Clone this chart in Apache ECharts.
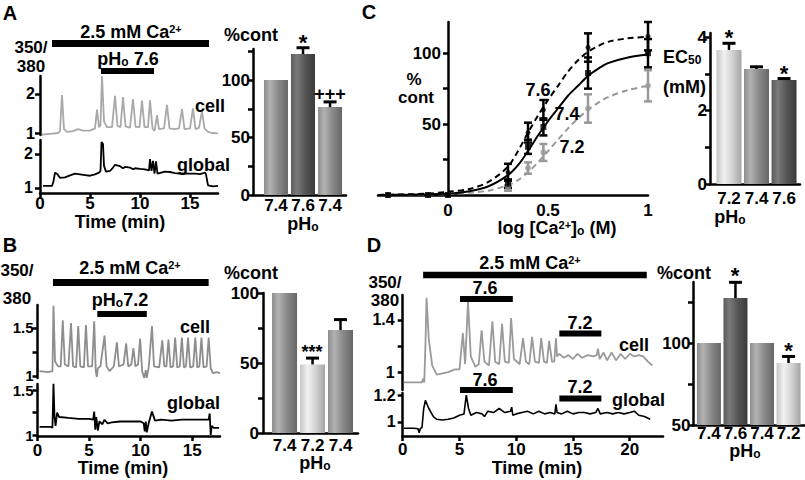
<!DOCTYPE html>
<html><head><meta charset="utf-8">
<script src="https://cdn.jsdelivr.net/npm/echarts@6/dist/echarts.min.js"></script>
<style>html,body{margin:0;padding:0;background:#fff}#c{width:805px;height:480px}</style>
</head><body><div id="c"></div>
<script>
// ---------------- DATA ----------------
// Panel A traces [time (min), 350/380 ratio]
const aCell = [[0.2,0.96],[1.0,0.98],[1.8,1.0],[2.0,1.05],[2.2,1.97],[2.4,1.1],[2.7,1.03],[3.3,1.05],[3.8,1.1],[4.3,1.06],[5.0,1.06],[5.5,1.12],[5.7,1.6],[5.9,1.15],[6.05,1.2],[6.2,2.46],[6.4,1.3],[6.7,1.15],[7.2,1.15],[7.5,1.95],[7.75,1.18],[8.05,1.15],[8.3,1.92],[8.55,1.17],[9.0,1.14],[9.3,1.87],[9.55,1.16],[9.95,1.15],[10.2,1.83],[10.45,1.15],[10.8,1.15],[11.0,1.84],[11.25,1.12],[11.45,1.05],[11.7,1.45],[11.9,1.1],[12.4,1.12],[12.7,1.72],[12.95,1.12],[13.5,1.1],[13.9,1.12],[14.2,1.61],[14.45,1.1],[15.0,1.12],[15.3,1.63],[15.55,1.1],[15.9,1.13],[16.2,1.56],[16.45,1.12],[16.8,1.03],[17.2,1.0],[17.8,0.99]];
const aGlobal = [[0.3,1.06],[1.2,1.06],[1.35,1.2],[1.5,1.45],[1.7,1.42],[2.0,1.3],[2.5,1.31],[3.0,1.37],[3.5,1.42],[4.0,1.4],[4.5,1.38],[5.0,1.36],[5.5,1.4],[5.9,1.45],[6.05,1.5],[6.15,2.35],[6.3,2.3],[6.4,1.65],[6.6,1.48],[7.0,1.5],[7.3,1.6],[7.5,1.68],[8.0,1.64],[8.3,1.58],[8.5,1.62],[9.0,1.6],[9.3,1.55],[9.5,1.58],[10.0,1.56],[10.5,1.55],[10.9,1.52],[11.0,1.85],[11.15,1.5],[11.3,1.8],[11.45,1.42],[11.6,1.78],[11.75,1.42],[12.5,1.48],[13.0,1.47],[13.5,1.44],[14.0,1.42],[14.5,1.43],[15.0,1.42],[15.5,1.42],[16.0,1.41],[16.5,1.45],[16.6,1.4],[16.8,1.08],[17.3,1.05],[17.8,1.06]];
// Panel B traces
const bCell = [[0.2,1.05],[1.0,1.04],[1.45,1.05],[1.55,1.73],[1.7,1.15],[2.0,1.1],[2.25,1.1],[2.45,1.58],[2.65,1.12],[3.0,1.1],[3.25,1.55],[3.45,1.1],[3.75,1.09],[3.95,1.52],[4.15,1.1],[4.5,1.09],[4.7,1.53],[4.9,1.1],[5.3,1.1],[5.5,1.57],[5.65,1.05],[5.75,0.99],[5.85,1.08],[6.1,1.1],[6.5,1.42],[6.7,1.1],[7.0,1.05],[7.4,1.1],[7.7,1.35],[7.9,1.1],[8.35,1.12],[8.6,1.34],[8.8,1.1],[9.1,1.12],[9.3,1.29],[9.5,1.1],[9.75,1.12],[9.95,1.39],[10.15,1.05],[10.35,0.98],[10.5,1.06],[10.6,0.98],[10.8,1.1],[11.1,1.52],[11.3,1.1],[11.8,1.09],[12.1,1.37],[12.3,1.1],[12.5,1.1],[12.7,1.38],[12.9,1.09],[13.15,1.1],[13.35,1.4],[13.55,1.09],[13.8,1.1],[14.0,1.4],[14.2,1.09],[14.4,1.1],[14.6,1.4],[14.8,1.09],[15.1,1.1],[15.3,1.4],[15.5,1.09],[15.7,1.1],[15.9,1.4],[16.1,1.09],[16.4,1.1],[16.6,1.4],[16.8,1.08],[17.0,1.03],[17.4,1.04],[17.7,1.03]];
const bGlobal = [[0.2,1.09],[1.3,1.09],[1.45,1.08],[1.55,1.57],[1.65,1.2],[1.75,1.1],[1.9,1.25],[2.1,1.2],[3.0,1.19],[4.0,1.18],[5.0,1.18],[5.4,1.17],[5.5,1.26],[5.6,1.06],[5.7,1.2],[5.85,1.05],[6.0,1.15],[6.3,1.12],[6.5,1.17],[6.8,1.13],[7.2,1.14],[8.0,1.15],[9.0,1.15],[10.0,1.15],[10.3,1.13],[10.4,1.04],[10.5,1.15],[10.6,1.03],[10.8,1.14],[11.1,1.26],[11.4,1.16],[12.0,1.17],[13.0,1.16],[14.0,1.17],[15.0,1.17],[16.0,1.17],[16.6,1.17],[16.7,1.24],[16.8,1.0],[16.9,1.1],[17.1,1.08],[17.6,1.08]];
// Panel D traces
const dCell = [[0.1,0.92],[1.0,0.92],[1.7,0.92],[1.8,0.95],[1.9,0.92],[2.0,1.2],[2.1,1.57],[2.3,1.25],[2.6,1.05],[3.0,0.98],[3.5,0.99],[4.0,1.0],[4.6,1.02],[5.0,1.02],[5.3,1.3],[5.5,1.06],[5.75,1.54],[6.0,1.12],[6.4,1.04],[6.7,1.06],[6.95,1.32],[7.2,1.08],[7.6,1.05],[7.9,1.39],[8.15,1.08],[8.5,1.06],[8.75,1.37],[9.0,1.08],[9.35,1.07],[9.55,1.415],[9.8,1.1],[10.3,1.06],[10.6,1.26],[10.85,1.08],[11.15,1.06],[11.4,1.27],[11.65,1.08],[12.0,1.07],[12.2,1.26],[12.45,1.08],[12.7,1.07],[12.9,1.24],[13.15,1.08],[13.35,1.08],[13.5,1.26],[13.6,1.12],[13.8,1.14],[14.2,1.11],[14.6,1.13],[15.0,1.1],[15.4,1.14],[15.8,1.11],[16.3,1.13],[16.8,1.12],[17.1,1.13],[17.2,1.18],[17.35,1.1],[17.7,1.15],[18.0,1.09],[18.4,1.15],[18.8,1.09],[19.2,1.14],[19.6,1.1],[20.0,1.14],[20.4,1.12],[20.8,1.13],[21.2,1.12],[21.6,1.08],[22.0,1.05]];
const dGlobal = [[0.1,0.953],[1.0,0.953],[1.35,0.95],[1.45,0.92],[1.55,0.95],[1.7,0.96],[1.85,1.1],[2.0,1.16],[2.3,1.1],[2.7,1.04],[3.0,1.02],[3.5,1.015],[4.0,1.02],[4.5,1.03],[5.0,1.05],[5.4,1.06],[5.6,1.2],[5.8,1.1],[6.0,1.05],[6.5,1.07],[7.0,1.06],[7.2,1.04],[7.5,1.08],[8.0,1.07],[8.5,1.1],[9.0,1.07],[9.5,1.08],[9.6,1.11],[9.7,1.05],[10.0,1.06],[10.5,1.07],[11.0,1.08],[11.5,1.06],[12.0,1.08],[12.5,1.06],[13.0,1.07],[13.4,1.06],[13.5,1.13],[13.6,1.07],[14.0,1.06],[14.5,1.08],[15.0,1.06],[15.5,1.07],[16.0,1.07],[16.5,1.06],[17.0,1.07],[17.2,1.1],[17.4,1.06],[18.0,1.07],[18.5,1.06],[19.0,1.07],[19.5,1.06],[20.0,1.07],[20.4,1.08],[20.8,1.05],[21.3,1.04],[21.8,1.02]];
// stimulus periods [start, end] (min)
const aCaPeriod = [1.2, 16.9];
const aPhPeriod = [6.1, 11.4];
const bCaPeriod = [1.5, 16.6];
const bPhPeriod = [5.8, 10.6];
const dCaPeriod = [1.8, 21.5];
const dPh76Period = [5.05, 9.7];
const dPh72Period = [13.8, 17.5];
// bar charts
const aBarLabels = ['7.4','7.6','7.4'];
const aBarValues = [100, 122.6, 76.5];
const aBarErr = [0, 5.5, 4.5];
const aBarShade = ['mid','dark','mid'];
const bBarLabels = ['7.4','7.2','7.4'];
const bBarValues = [100, 49, 73.5];
const bBarErr = [0, 4.5, 7.5];
const bBarShade = ['mid','light','mid'];
const cBarLabels = ['7.2','7.4','7.6'];
const cBarValues = [3.65, 3.13, 2.83];
const cBarErr = [0.18, 0.06, 0.04];
const cBarShade = ['light','mid','dark'];
const dBarLabels = ['7.4','7.6','7.4','7.2'];
const dBarValues = [100, 127.4, 100, 87.8];
const dBarErr = [0, 9.6, 0, 4];
const dBarShade = ['mid','dark','mid','light'];
// Panel C dose-response: log[Ca2+]o and % control
const cLogCa = [-0.3, -0.1, 0, 0.3, 0.4, 0.477, 0.7, 1.0];
const c74 = [0, 0, 0, 8, 34, 48, 86, 100];
const c74Err = [0, 0, 0, 3, 5, 6, 11, 10];
const c76 = [0, 0, 0, 16, 44, 60, 104, 112];
const c76Err = [0, 0, 0, 6, 7, 7, 10, 10];
const c72 = [0, 0, 0, 5, 19, 30, 61, 77];
const c72Err = [0, 0, 0, 2, 4, 6, 10, 11];
// fitted curves
const fitX  = [-0.35,-0.2,-0.1,0,0.1,0.2,0.3,0.35,0.4,0.45,0.5,0.55,0.6,0.65,0.7,0.75,0.8,0.9,1.0];
const fit74 = [0,0.2,0.5,1,2.5,6,14,21,31,42,52,61,70,77,84,89,93,97,99];
const fit76 = [0,0.5,1,2.3,4,9,20,31,44,56,67,77,87,95,101,105,108,110.5,111.5];
const fit72 = [0,0.2,0.4,0.7,1.5,3,7,10.5,16,23,31,39,47,54,60,65,69,74,77];
// tick values
const aTimeTicks = [0,5,10,15];
const bTimeTicks = [0,5,10,15];
const dTimeTicks = [0,5,10,15,20];
const cLogTicks = [0,0.5,1];

// ---------------- RENDER ----------------
const FONT = 'Liberation Sans, Arial, Helvetica, sans-serif';
const chart = echarts.init(document.getElementById('c'), null, {renderer: 'svg', width: 805, height: 480});
const LG = echarts.graphic.LinearGradient;
const SHADES = {
  mid:   [['#8c8c8c',0],['#b2b2b2',0.25],['#8a8a8a',0.6],['#666',1]],
  dark:  [['#5c5c5c',0],['#7a7a7a',0.25],['#555',0.6],['#3a3a3a',1]],
  light: [['#c4c4c4',0],['#f2f2f2',0.3],['#d0d0d0',0.65],['#a4a4a4',1]]
};
function grad(s){ return new LG(0,0,1,0, SHADES[s].map(([c,o])=>({offset:o,color:c}))); }

const grids = [
  {left:40, top:76, width:178, height:59},     //0 A cell
  {left:40, top:140, width:178, height:53},    //1 A global
  {left:253, top:49, width:93, height:146},    //2 A bar
  {left:378, top:22, width:270, height:173},   //3 C curve (x axis from -0.35)
  {left:710, top:33, width:90, height:151},    //4 C bar
  {left:37.5, top:305, width:182.5, height:73},//5 B cell
  {left:37.5, top:384, width:182.5, height:52},//6 B global
  {left:263, top:293, width:95, height:140},   //7 B bar
  {left:402.7, top:295, width:260.3, height:95},//8 D cell
  {left:402.7, top:393, width:260.3, height:43},//9 D global
  {left:693, top:282, width:112, height:143},  //10 D bar
  {left:448, top:22, width:200, height:173}    //11 C curve y axis at log=0
].map(g => Object.assign({containLabel:false, outerBoundsMode:'none'}, g));

const LINE = {show:true, onZero:false, lineStyle:{color:'#000', width:2.5}};
function ax(gi, min, max, ticks){
  return {
    type:'value', gridIndex:gi, min, max,
    axisLine: Object.assign({}, LINE),
    axisTick: {show: !!ticks, length:5, lineStyle:{color:'#000', width:2.5}, customValues: ticks || []},
    axisLabel: {show:false},
    splitLine: {show:false}
  };
}
const hidden = (gi,min,max)=>({type:'value', gridIndex:gi, min, max, show:false, splitLine:{show:false}});

const xAxis = [
  hidden(0, 0, 17.8),
  ax(1, 0, 17.8, aTimeTicks),
  ax(2, -0.85, 2.59, null),
  ax(3, -0.35, 1.0, null),
  ax(4, -0.69, 2.58, null),
  hidden(5, 0, 17.7),
  ax(6, 0, 17.7, bTimeTicks),
  ax(7, -0.77, 2.625, null),
  hidden(8, 0, 22.93),
  ax(9, 0, 22.93, dTimeTicks),
  ax(10, -0.6, 3.62, null),
  hidden(11, 0, 1.0)
];
const yAxis = [
  ax(0, 0.949, 2.46, [1,2]),
  ax(1, 0.853, 2.41, [1,2]),
  ax(2, 0, 127, [0,25,50,75,100,125]),
  hidden(3, 0, 122),
  ax(4, 0, 4.11, [0,1,2,3,4]),
  ax(5, 0.979, 1.739, [1,1.25,1.5]),
  ax(6, 0.989, 1.567, [1,1.25,1.5]),
  ax(7, 0, 100, [0,25,50,75,100]),
  ax(8, 0.862, 1.592, [1,1.2,1.4]),
  ax(9, 0.896, 1.215, [1,1.2]),
  ax(10, 50, 137.2, [50,75,100,125]),
  ax(11, 0, 122, [25,50,75,100])
];

const series = [];
function trace(gi, data, color, w){
  series.push({type:'line', xAxisIndex:gi, yAxisIndex:gi, data, showSymbol:false, symbol:'none',
    lineStyle:{color, width:w||1.8}, animation:false, z:3});
}
trace(0, aCell, '#a9a9a9'); trace(1, aGlobal, '#000');
trace(5, bCell, '#8e8e8e'); trace(6, bGlobal, '#000');
trace(8, dCell, '#9a9a9a'); trace(9, dGlobal, '#000', 1.6);

// stimulus bars: period via x scale, vertical pixel placement from layout
function stim(gi, period, yPix, h){
  series.push({type:'custom', xAxisIndex:gi, yAxisIndex:gi, clip:false, animation:false, z:5,
    data:[[period[0], period[1]]], encode:{x:[0,1]},
    renderItem:(p, api)=>{
      const y0 = yAxis[gi].min;
      const a = api.coord([api.value(0), y0]), b = api.coord([api.value(1), y0]);
      return {type:'rect', shape:{x:a[0], y:yPix-h/2, width:b[0]-a[0], height:h}, style:{fill:'#000'}};
    }});
}
stim(0, aCaPeriod, 43.5, 7); stim(0, aPhPeriod, 71, 6);
stim(5, bCaPeriod, 282.5, 7); stim(5, bPhPeriod, 314, 6);
stim(8, dCaPeriod, 275, 6.5); stim(8, dPh76Period, 299, 6); stim(8, dPh72Period, 333.5, 6);
stim(9, dPh76Period, 390, 6); stim(9, dPh72Period, 398.5, 6);

// bar charts
function bars(gi, vals, errs, shades, bw){
  series.push({type:'bar', xAxisIndex:gi, yAxisIndex:gi, barWidth:bw, animation:false, z:2,
    data: vals.map((v,i)=>({value:[i,v], itemStyle:{color:grad(shades[i])}}))});
  series.push({type:'custom', xAxisIndex:gi, yAxisIndex:gi, clip:false, animation:false, z:3,
    data: vals.map((v,i)=>[i,v,errs[i]]).filter(d=>d[2]>0), encode:{x:0,y:1},
    renderItem:(p, api)=>{
      const x=api.value(0), y=api.value(1), e=api.value(2);
      const a=api.coord([x,y]), b=api.coord([x,y+e]);
      return {type:'group', children:[
        {type:'line', shape:{x1:a[0],y1:a[1],x2:b[0],y2:b[1]}, style:{stroke:'#000', lineWidth:2.5}},
        {type:'line', shape:{x1:b[0]-6.5,y1:b[1],x2:b[0]+6.5,y2:b[1]}, style:{stroke:'#000', lineWidth:3}}
      ]};
    }});
}
bars(2, aBarValues, aBarErr, aBarShade, 24);
bars(4, cBarValues, cBarErr, cBarShade, 25);
bars(7, bBarValues, bBarErr, bBarShade, 25);
bars(10, dBarValues, dBarErr, dBarShade, 24);

// Panel C curves, points and error bars
function fit(vals, color, dashed){
  series.push({type:'line', xAxisIndex:3, yAxisIndex:3, data: fitX.map((x,i)=>[x, vals[i]]), smooth:0.3,
    showSymbol:false, symbol:'none', animation:false, z:3,
    lineStyle:{color, width:2, type: dashed ? [6,4] : 'solid'}});
}
function pts(vals, errs, color, symbol, size){
  series.push({type:'custom', xAxisIndex:3, yAxisIndex:3, clip:false, animation:false, z:4,
    data: cLogCa.map((x,i)=>[x, vals[i], errs[i]]).filter(d=>d[2]>0), encode:{x:0,y:1},
    renderItem:(p, api)=>{
      const x=api.value(0), y=api.value(1), e=api.value(2);
      const a=api.coord([x,y-e]), b=api.coord([x,y+e]);
      return {type:'group', children:[
        {type:'line', shape:{x1:a[0],y1:a[1],x2:b[0],y2:b[1]}, style:{stroke:color, lineWidth:2.5}},
        {type:'line', shape:{x1:a[0]-4,y1:a[1],x2:a[0]+4,y2:a[1]}, style:{stroke:color, lineWidth:2.5}},
        {type:'line', shape:{x1:b[0]-4,y1:b[1],x2:b[0]+4,y2:b[1]}, style:{stroke:color, lineWidth:2.5}}
      ]};
    }});
  series.push({type:'scatter', xAxisIndex:3, yAxisIndex:3, animation:false, z:5, symbol, symbolSize:size,
    itemStyle:{color}, data: cLogCa.map((x,i)=>[x, vals[i]])});
}
fit(fit72, '#999', true); fit(fit76, '#000', true); fit(fit74, '#000', false);
pts(c72, c72Err, '#999', 'circle', 6);
pts(c76, c76Err, '#000', 'circle', 5);
pts(c74, c74Err, '#000', 'rect', 6);

// ---------------- TICK LABELS (placed through each axis scale) ----------------
function txtStyle(text, size, align){
  return {text, fill:'#000', fontSize:size, fontWeight:'bold', fontFamily:FONT, align, verticalAlign:'middle'};
}
function xLabels(gi, vals, fmt, dy, size){
  const y0 = yAxis[gi].min;
  series.push({type:'custom', xAxisIndex:gi, yAxisIndex:gi, clip:false, silent:true, animation:false, z:10,
    data: vals.map(v=>[v, y0]), encode:{x:0, y:1},
    renderItem:(p, api)=>{
      const v = api.value(0), c = api.coord([v, api.value(1)]);
      return {type:'text', x:c[0], y:c[1]+dy, style: txtStyle(fmt(v), size||17, 'center')};
    }});
}
function yLabels(gi, vals, fmt, dx, size, xAt){
  const x0 = (xAt == null) ? xAxis[gi].min : xAt;
  series.push({type:'custom', xAxisIndex:gi, yAxisIndex:gi, clip:false, silent:true, animation:false, z:10,
    data: vals.map(v=>[x0, v]), encode:{x:0, y:1},
    renderItem:(p, api)=>{
      const v = api.value(1), c = api.coord([api.value(0), v]);
      return {type:'text', x:c[0]-dx, y:c[1], style: txtStyle(fmt(v), size||17, 'right')};
    }});
}
const num = v => String(v);
const cat = arr => (v => arr[Math.round(v)]);
// A
yLabels(0, [1,2], num, 5, 16); yLabels(1, [1,2], num, 7, 16); xLabels(1, aTimeTicks, num, 10);
yLabels(2, [0,50,100], num, 3); xLabels(2, [0,1,2], cat(aBarLabels), 10);
// C
yLabels(3, [50,100], num, 7, 17, 0); xLabels(3, cLogTicks, num, 15);
yLabels(4, [0,2,4], num, 3); xLabels(4, [0,1,2], cat(cBarLabels), 14);
// B
yLabels(5, [1,1.5], num, 4, 15); yLabels(6, [1,1.5], num, 4, 15); xLabels(6, bTimeTicks, num, 14);
yLabels(7, [0,50,100], num, 4); xLabels(7, [0,1,2], cat(bBarLabels), 12);
// D
yLabels(8, [1,1.4], num, 8, 16); yLabels(9, [1,1.2], num, 7, 16); xLabels(9, dTimeTicks, num, 13);
yLabels(10, [50,100], num, 2.5); xLabels(10, [0,1,2,3], cat(dBarLabels), 8.5);

// ---------------- TEXT ----------------
const RICH = {
  sup: {fontSize:11, fontWeight:'bold', fontFamily:FONT, fill:'#000', verticalAlign:'top', lineHeight:8},
  sub: {fontSize:12, fontWeight:'bold', fontFamily:FONT, fill:'#000', verticalAlign:'bottom', lineHeight:8, padding:[10,0,0,0]}
};
function T(x, y, text, size, align, lh){
  const s = {text, fill:'#000', fontSize:size||18, fontWeight:'bold', fontFamily:FONT,
    align: align||'center', verticalAlign:'middle', rich:RICH};
  if (lh) s.lineHeight = lh;
  return {type:'text', x, y, z:100, silent:true, style:s};
}
const CA = '2.5 mM Ca{sup|2+}';
const PH = 'pH{sub|o}';
const graphic = [
  T(10, 13, 'A', 20), T(10, 245, 'B', 20), T(369, 12, 'C', 20), T(374, 245, 'D', 20),
  // A
  T(131, 32, CA), T(31, 57, '350/\n380', 17, 'center', 19), T(128, 59, PH + ' 7.6'),
  T(195, 106, 'cell', 18, 'left'), T(177, 165, 'global', 18, 'left'), T(120, 222, 'Time (min)'),
  T(224, 35, '%cont', 18, 'left'), T(303, 42, '*', 22), T(330, 94, '+++', 18), T(303, 224, PH),
  // C
  T(414, 79, '%', 17), T(416, 97, 'cont', 17), T(557, 228, 'log [Ca{sup|2+}]{sub|o} (M)'),
  T(538, 90, '7.6'), T(567, 114, '7.4'), T(572, 147, '7.2'),
  T(663, 57, 'EC{sub|50}', 18, 'left'), T(663, 87, '(mM)', 18, 'left'),
  T(729, 37, '*', 22), T(784, 73, '*', 22), T(730, 217, PH),
  // B
  T(130, 268, CA), T(17, 284, '350/\n380', 17, 'center', 28), T(120, 300, PH + '7.2'),
  T(180, 327, 'cell', 18, 'left'), T(167, 403, 'global', 18, 'left'), T(123, 468, 'Time (min)'),
  T(224, 273, '%cont', 18, 'left'), T(312, 352, '***', 18), T(315, 463, PH),
  // D
  T(530, 263, CA), T(385, 291, '350/\n380', 17, 'center', 18),
  T(485, 288, '7.6'), T(580, 323, '7.2'), T(485, 380, '7.6'), T(580, 387, '7.2'),
  T(619, 345, 'cell', 18, 'left'), T(612, 400, 'global', 18, 'left'), T(537, 468, 'Time (min)'),
  T(657, 273, '%cont', 18, 'left'), T(735, 275, '*', 22), T(788.5, 350, '*', 22), T(745, 451, PH)
];

chart.setOption({
  animation:false, backgroundColor:'#fff',
  grid: grids, xAxis, yAxis, series, graphic
});
</script></body></html>
